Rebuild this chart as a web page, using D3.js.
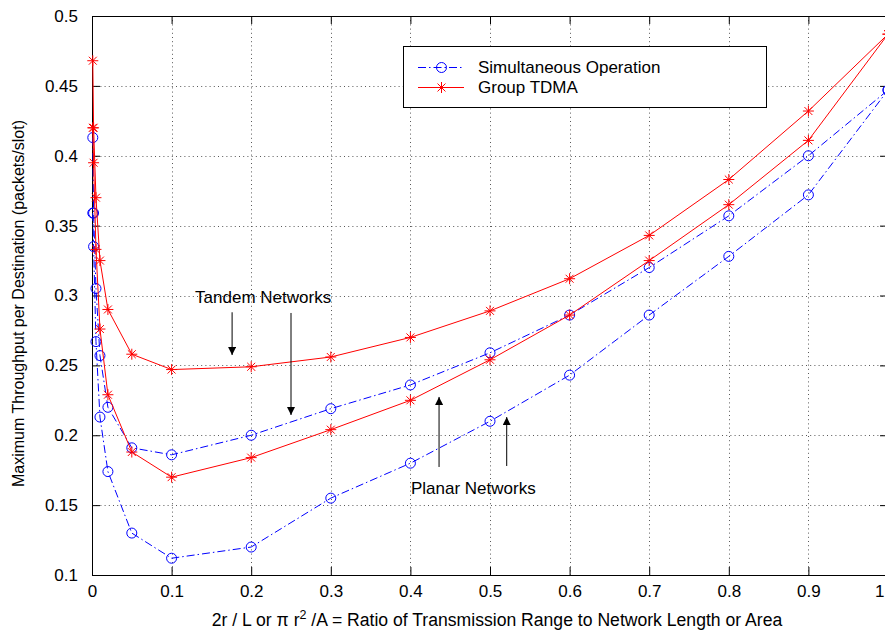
<!DOCTYPE html>
<html>
<head>
<meta charset="utf-8">
<script src="https://cdn.jsdelivr.net/npm/d3@7"></script>
<style>
  body { margin: 0; background: #fff; }
  svg { display: block; }
  text { font-family: "Liberation Sans", Arial, Helvetica, sans-serif; fill: #000; }
</style>
</head>
<body>
<svg id="chart" width="885" height="630"></svg>
<script>
// Ratio of transmission range to network length (tandem) or area (planar)
const ratio = [0.001, 0.002, 0.005, 0.01, 0.02, 0.05, 0.1, 0.2, 0.3, 0.4, 0.5, 0.6, 0.7, 0.8, 0.9, 1.0];

// Maximum throughput per destination (packets/slot)
const tandemSimultaneous = [0.413, 0.359, 0.305, 0.257, 0.220, 0.191, 0.186, 0.200, 0.219, 0.236, 0.259, 0.286, 0.320, 0.357, 0.400, 0.447];
const tandemTDMA         = [0.468, 0.420, 0.370, 0.325, 0.290, 0.258, 0.247, 0.249, 0.256, 0.270, 0.289, 0.312, 0.343, 0.383, 0.432, 0.487];
const planarSimultaneous = [0.359, 0.335, 0.267, 0.213, 0.174, 0.130, 0.112, 0.120, 0.155, 0.180, 0.210, 0.243, 0.286, 0.328, 0.372, 0.447];
const planarTDMA         = [0.420, 0.395, 0.333, 0.276, 0.229, 0.188, 0.170, 0.184, 0.204, 0.225, 0.254, 0.286, 0.325, 0.365, 0.411, 0.487];

const xTicks = [0, 0.1, 0.2, 0.3, 0.4, 0.5, 0.6, 0.7, 0.8, 0.9, 1];
const xTickLabels = ["0", "0.1", "0.2", "0.3", "0.4", "0.5", "0.6", "0.7", "0.8", "0.9", "1"];
const yTicks = [0.1, 0.15, 0.2, 0.25, 0.3, 0.35, 0.4, 0.45, 0.5];
const yTickLabels = ["0.1", "0.15", "0.2", "0.25", "0.3", "0.35", "0.4", "0.45", "0.5"];

const legendLabels = ["Simultaneous Operation", "Group TDMA"];

const svg = d3.select("#chart");
const W = 885;
const m = { left: 92, right: 888, top: 16, bottom: 575 };

const x = d3.scaleLinear().domain([0, 1]).range([m.left, m.right]);
const y = d3.scaleLinear().domain([0.1, 0.5]).range([m.bottom, m.top]);

const BLUE = "#0000ff", RED = "#ff0000";
const DASHDOT = "8,3,1.5,3";
const FS = 17;

// dotted grid
const grid = svg.append("g").attr("stroke", "#000").attr("stroke-width", 1)
  .attr("stroke-dasharray", "1,3.2").attr("opacity", 0.65);
grid.selectAll(".gx").data(xTicks.slice(1, -1)).join("line")
  .attr("x1", d => Math.round(x(d)) + 0.5).attr("x2", d => Math.round(x(d)) + 0.5)
  .attr("y1", m.top).attr("y2", m.bottom);
grid.selectAll(".gy").data(yTicks.slice(1, -1)).join("line")
  .attr("y1", d => Math.round(y(d)) + 0.5).attr("y2", d => Math.round(y(d)) + 0.5)
  .attr("x1", m.left).attr("x2", m.right);

// axes with inward ticks
const TICK = 8;
const xAxis = svg.append("g").attr("transform", `translate(0,${m.bottom})`)
  .call(d3.axisBottom(x).tickValues(xTicks).tickFormat((d, i) => xTickLabels[i])
    .tickSizeInner(-TICK).tickSizeOuter(0).tickPadding(TICK + 6));
const yAxis = svg.append("g").attr("transform", `translate(${m.left},0)`)
  .call(d3.axisLeft(y).tickValues(yTicks).tickFormat((d, i) => yTickLabels[i])
    .tickSizeInner(-TICK).tickSizeOuter(0).tickPadding(TICK + 6));
const xTop = svg.append("g").attr("transform", `translate(0,${m.top})`)
  .call(d3.axisTop(x).tickValues(xTicks).tickFormat("").tickSizeInner(-TICK).tickSizeOuter(0));
const yRight = svg.append("g").attr("transform", `translate(${m.right},0)`)
  .call(d3.axisRight(y).tickValues(yTicks).tickFormat("").tickSizeInner(-TICK).tickSizeOuter(0));
[xAxis, yAxis, xTop, yRight].forEach(g => {
  g.select(".domain").remove();
  g.selectAll("line").attr("stroke", "#000");
  g.selectAll("text").style("font-size", FS + "px").attr("fill", "#000");
});
xAxis.selectAll("text").attr("dy", "0.45em");
// the last x label sits at the right border of the page; keep it inside
xAxis.selectAll(".tick").filter(d => x(d) > W - 10).select("text")
  .attr("text-anchor", "end").attr("x", W - 1 - x(1));

// frame
svg.append("rect").attr("x", m.left + 0.5).attr("y", m.top + 0.5)
  .attr("width", m.right - m.left).attr("height", m.bottom - m.top)
  .attr("fill", "none").attr("stroke", "#000").attr("stroke-width", 1);

// series
const line = d3.line().x(d => x(d[0])).y(d => y(d[1]));
const zip = vals => ratio.map((r, i) => [r, vals[i]]);

function circleMarker(g, px, py, color) {
  g.append("circle").attr("cx", px).attr("cy", py).attr("r", 5)
    .attr("fill", "none").attr("stroke", color).attr("stroke-width", 1);
}
function starMarker(g, px, py, color) {
  const s = 5.5, d = s * 0.72;
  const p = `M${px - s},${py}H${px + s}M${px},${py - s}V${py + s}` +
            `M${px - d},${py - d}L${px + d},${py + d}M${px - d},${py + d}L${px + d},${py - d}`;
  g.append("path").attr("d", p).attr("stroke", color).attr("stroke-width", 1).attr("fill", "none");
}

const series = [
  { vals: tandemSimultaneous, color: BLUE, dash: DASHDOT, marker: circleMarker },
  { vals: planarSimultaneous, color: BLUE, dash: DASHDOT, marker: circleMarker },
  { vals: tandemTDMA, color: RED, dash: null, marker: starMarker },
  { vals: planarTDMA, color: RED, dash: null, marker: starMarker }
];
const plot = svg.append("g");
series.forEach(s => {
  const pts = zip(s.vals);
  plot.append("path").datum(pts).attr("d", line).attr("fill", "none")
    .attr("stroke", s.color).attr("stroke-width", 1)
    .attr("stroke-dasharray", s.dash);
  const mg = plot.append("g");
  pts.forEach(p => s.marker(mg, x(p[0]), y(p[1]), s.color));
});

// annotations
svg.append("defs").append("marker").attr("id", "head")
  .attr("viewBox", "0 0 10 10").attr("refX", 10).attr("refY", 5)
  .attr("markerWidth", 8).attr("markerHeight", 8).attr("markerUnits", "userSpaceOnUse")
  .attr("orient", "auto")
  .append("path").attr("d", "M0,0L10,5L0,10Z").attr("fill", "#000");

const arrows = [
  { x: 0.176, from: 0.288, to: 0.2574 },
  { x: 0.250, from: 0.2875, to: 0.2145 },
  { x: 0.436, from: 0.1773, to: 0.2274 },
  { x: 0.521, from: 0.178, to: 0.213 }
];
arrows.forEach(a => {
  svg.append("line").attr("x1", x(a.x)).attr("x2", x(a.x))
    .attr("y1", y(a.from)).attr("y2", y(a.to))
    .attr("stroke", "#000").attr("stroke-width", 1).attr("marker-end", "url(#head)");
});
svg.append("text").attr("x", x(0.215)).attr("y", y(0.2946)).attr("text-anchor", "middle")
  .style("font-size", FS + "px").text("Tandem Networks");
svg.append("text").attr("x", x(0.479)).attr("y", y(0.158)).attr("text-anchor", "middle")
  .style("font-size", FS + "px").text("Planar Networks");

// legend
const lg = svg.append("g");
lg.append("rect").attr("x", 403.5).attr("y", 46.5).attr("width", 363).attr("height", 61)
  .attr("fill", "#fff").attr("stroke", "#000").attr("stroke-width", 1);
const legendItems = [
  { label: legendLabels[0], color: BLUE, dash: DASHDOT, marker: circleMarker, cy: 67.5 },
  { label: legendLabels[1], color: RED, dash: null, marker: starMarker, cy: 87.5 }
];
legendItems.forEach(it => {
  lg.append("line").attr("x1", 418).attr("x2", 464).attr("y1", it.cy).attr("y2", it.cy)
    .attr("stroke", it.color).attr("stroke-width", 1).attr("stroke-dasharray", it.dash);
  it.marker(lg, 441.5, it.cy, it.color);
  lg.append("text").attr("x", 478).attr("y", it.cy).attr("dy", "0.35em")
    .style("font-size", FS + "px").text(it.label);
});

// axis titles
const xt = svg.append("text").attr("x", 497).attr("y", 626).attr("text-anchor", "middle")
  .style("font-size", "17.6px");
xt.append("tspan").text("2r / L or \u03c0 r");
xt.append("tspan").attr("dy", -7).style("font-size", "12.5px").text("2");
xt.append("tspan").attr("dy", 7).text(" /A = Ratio of Transmission Range to Network Length or Area");

svg.append("text").attr("transform", `translate(24,${(m.top + m.bottom) / 2 + 8}) rotate(-90)`)
  .attr("text-anchor", "middle").style("font-size", "16px")
  .text("Maximum Throughput per Destination (packets/slot)");
</script>
</body>
</html>
